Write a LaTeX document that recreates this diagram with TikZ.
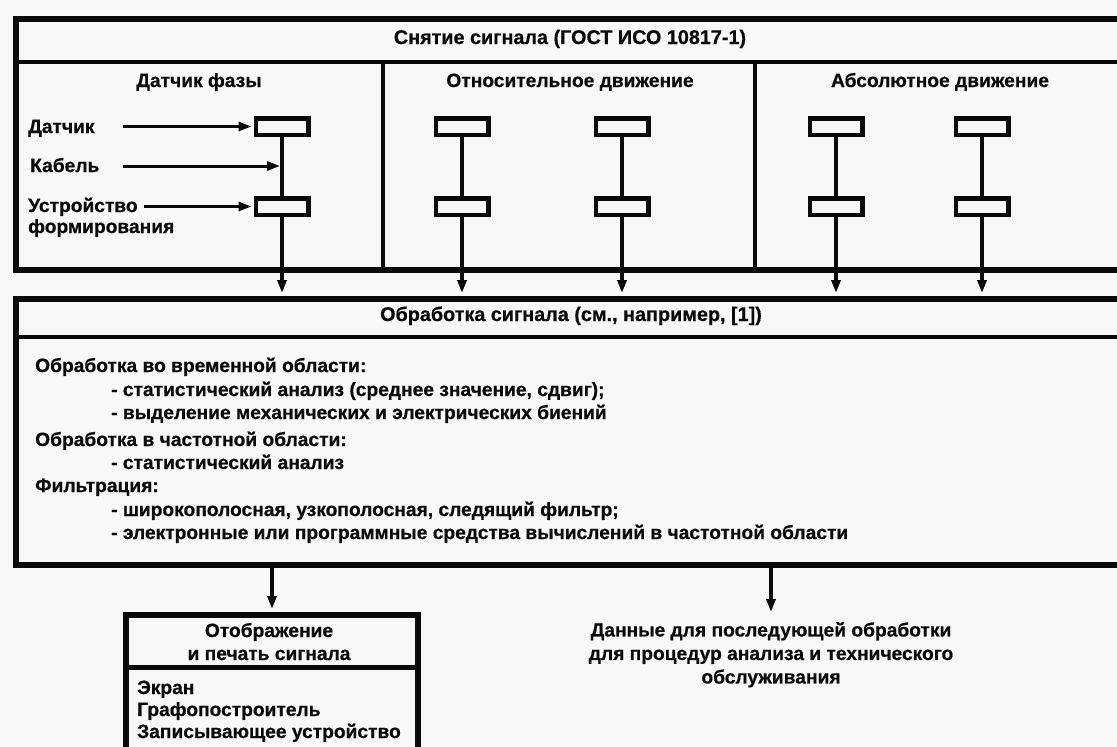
\documentclass[tikz,border=0pt]{standalone}
\usepackage{fontspec}
\setmainfont{Liberation Sans}[BoldFeatures={FakeBold=0.6}]
\usetikzlibrary{arrows.meta}
\definecolor{bgc}{HTML}{F8F8F8}
\definecolor{ink}{HTML}{0A0A0A}
\begin{document}
\begin{tikzpicture}[x=1pt,y=-1pt,
  every node/.style={font=\fontsize{19.2}{23.5}\selectfont\bfseries, inner sep=0pt, text=ink},
  titletext/.style={font=\fontsize{19.8}{23.5}\selectfont\bfseries},
  bigbox/.style={draw=ink, line width=6pt, rectangle, anchor=north west, inner sep=0pt},
  sensor/.style={draw=ink, line width=4.5pt, rectangle, minimum width=52.5pt, minimum height=16.5pt, inner sep=0pt},
  divline/.style={draw=ink, line width=3.5pt},
  wire/.style={draw=ink, line width=4pt},
  arr/.style={draw=ink, line width=3pt, -{Triangle[length=13pt,width=9pt]}},
]
\useasboundingbox (0,0) rectangle (1117,747);
\fill[bgc] (0,0) rectangle (1117,747);

% ---------- Acquisition box ----------
\node[bigbox, minimum width=1110pt, minimum height=251pt] (acq) at (13,16) {};
\draw[divline] (13,62) -- (1123,62);
\draw[divline] (383,62) -- (383,267);
\draw[divline] (755,62) -- (755,267);

\node[anchor=base, titletext] (t1) at (570,44) {Снятие сигнала (ГОСТ ИСО 10817-1)};
\node[anchor=base] (h1) at (199,87) {Датчик фазы};
\node[anchor=base] (h2) at (570,87) {Относительное движение};
\node[anchor=base] (h3) at (940,87) {Абсолютное движение};

\node[anchor=base west] (l1) at (28,133) {Датчик};
\node[anchor=base west] (l2) at (30,172) {Кабель};
\node[anchor=base west] (l3) at (28,212) {Устройство};
\node[anchor=base west] (l3b) at (28,233) {формирования};

% sensors
\foreach \n/\x in {1/282,2/462,3/622,4/836,5/982}{
  \node[sensor] (s\n a) at (\x,126.5) {};
  \node[sensor] (s\n b) at (\x,206.5) {};
}

% ---------- Processing box ----------
\node[bigbox, minimum width=1110pt, minimum height=266pt] (proc) at (13,296) {};
\draw[divline] (13,337) -- (1123,337);
\node[anchor=base, titletext] (t2) at (571,321) {Обработка сигнала (см., например, [1])};

\node[anchor=base west] (p1) at (35,372) {Обработка во временной области:};
\node[anchor=base west] (p2) at (111,396) {- статистический анализ (среднее значение, сдвиг);};
\node[anchor=base west] (p3) at (111,419) {- выделение механических и электрических биений};
\node[anchor=base west] (p4) at (35,446) {Обработка в частотной области:};
\node[anchor=base west] (p5) at (111,469) {- статистический анализ};
\node[anchor=base west] (p6) at (35,492) {Фильтрация:};
\node[anchor=base west] (p7) at (111,516) {- широкополосная, узкополосная, следящий фильтр;};
\node[anchor=base west] (p8) at (111,539) {- электронные или программные средства вычислений в частотной области};

% ---------- Display box ----------
\node[bigbox, minimum width=292pt, minimum height=170pt] (disp) at (123,612) {};
\draw[draw=ink, line width=5pt] (123,667) -- (415,667);
\node[anchor=base] (d1) at (269,637) {Отображение};
\node[anchor=base] (d2) at (269,660) {и печать сигнала};
\node[anchor=base west] (e1) at (137,694) {Экран};
\node[anchor=base west] (e2) at (137,716) {Графопостроитель};
\node[anchor=base west] (e3) at (137,738) {Записывающее устройство};

% ---------- Data text ----------
\node[anchor=north, align=center] (data) at (771,622) {Данные для последующей обработки\\для процедур анализа и технического\\обслуживания};

% ---------- Connectors ----------
\coordinate (k1) at (123,126.5);
\coordinate (k2) at (123,166);
\coordinate (k3) at (144,206.5);
\draw[arr, shorten >=2pt] (k1) -- (s1a.west);
\draw[arr, shorten >=2pt] (k2) -- (k2 -| s1a);
\draw[arr, shorten >=2pt] (k3) -- (s1b.west);

\foreach \n in {1,...,5}{
  \draw[wire] (s\n a.south) -- (s\n b.north);
  \draw[arr, line width=4pt, shorten >=3pt] (s\n b.south) -- (s\n b.south |- proc.north);
}

\draw[arr, line width=3.5pt, shorten >=3pt] (proc.south -| disp) -- (disp.north);
\draw[arr, line width=3.5pt] (proc.south -| data) -- ([yshift=10pt]data.north);
\end{tikzpicture}
\end{document}
